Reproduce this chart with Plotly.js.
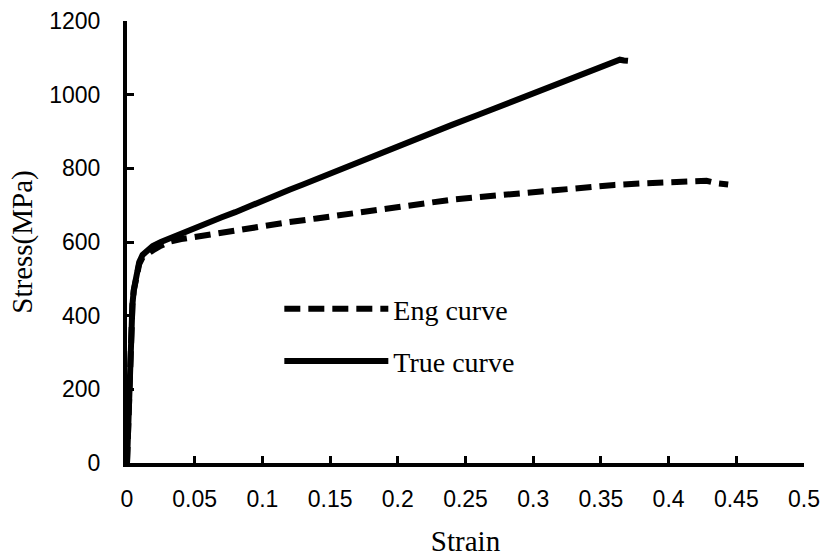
<!DOCTYPE html>
<html>
<head>
<meta charset="utf-8">
<script src="https://cdn.plot.ly/plotly-3.0.1.min.js"></script>
<style>html,body{margin:0;padding:0;background:#fff;}#chart{width:824px;height:557px;}</style>
</head>
<body>
<div id="chart"></div>
<script>
// ---- data ----
const seriesNames = ["Eng curve", "True curve"];

const engStrain = [0, 0.001, 0.002, 0.003, 0.004, 0.005, 0.006, 0.007, 0.009, 0.0115, 0.015, 0.019, 0.025, 0.032, 0.04, 0.05, 0.056, 0.07, 0.081, 0.09, 0.105, 0.12, 0.14, 0.16, 0.18, 0.2, 0.22, 0.24, 0.26, 0.28, 0.3, 0.32, 0.34, 0.36, 0.38, 0.4, 0.41, 0.42, 0.428, 0.435, 0.444];
const engStress = [0, 130, 260, 369, 428, 468, 492, 512, 540, 558, 569, 577, 590, 601, 608, 614, 619, 627, 633, 638, 646, 654, 664, 675, 686, 696, 706, 715, 722, 729, 735, 743, 750, 755, 759, 763, 765, 767, 766, 760, 756];

const trueStrain = [0, 0.001, 0.002, 0.003, 0.004, 0.005, 0.006, 0.007, 0.009, 0.0115, 0.015, 0.019, 0.025, 0.032, 0.04, 0.05, 0.06, 0.07, 0.08, 0.09, 0.1, 0.11, 0.12, 0.13, 0.14, 0.15, 0.16, 0.17, 0.18, 0.19, 0.2, 0.22, 0.24, 0.26, 0.28, 0.3, 0.32, 0.34, 0.35, 0.355, 0.36, 0.364, 0.367, 0.37];
const trueStress = [0, 130, 260, 370, 430, 470, 495, 516, 545, 565, 578, 589, 600, 611, 622, 637, 652, 667, 681, 697, 712, 727, 742, 756, 771, 786, 800, 815, 830, 846, 862, 890, 918, 946, 975, 1003, 1031, 1060, 1074, 1081, 1089, 1095, 1093, 1092];

const xTickVals = [0, 0.05, 0.1, 0.15, 0.2, 0.25, 0.3, 0.35, 0.4, 0.45, 0.5];
const xTickText = ["0", "0.05", "0.1", "0.15", "0.2", "0.25", "0.3", "0.35", "0.4", "0.45", "0.5"];
const yTickVals = [0, 200, 400, 600, 800, 1000, 1200];
const yTickText = ["0", "200", "400", "600", "800", "1000", "1200"];

const xTitle = "Strain";
const yTitle = "Stress(MPa)";

// ---- chart ----
const tickFont = {family: "Liberation Sans, Arial, sans-serif", size: 23, color: "#000"};
const serifFont = {family: "Liberation Serif, Times New Roman, serif", size: 29, color: "#000"};

const traces = [
  {x: engStrain, y: engStress, name: seriesNames[0], legendgroup: "g1", mode: "lines", type: "scatter",
   line: {color: "#000", width: 6, dash: "16px,8px"}},
  {x: trueStrain, y: trueStress, name: seriesNames[1], legendgroup: "g2", mode: "lines", type: "scatter",
   line: {color: "#000", width: 6}}
];

const axisCommon = {
  showline: true, linewidth: 4, linecolor: "#000",
  ticks: "inside", ticklen: 7, tickwidth: 3, tickcolor: "#000",
  showgrid: false, zeroline: false, tickfont: tickFont, mirror: false
};

const layout = {
  width: 824, height: 557,
  margin: {l: 127, r: 20, t: 21, b: 94, pad: 0},
  paper_bgcolor: "#fff", plot_bgcolor: "#fff",
  showlegend: true,
  legend: {x: 0.225, y: 0.405, xanchor: "left", yanchor: "top", font: {family: serifFont.family, size: 28, color: "#000"},
           bgcolor: "rgba(0,0,0,0)", borderwidth: 0, itemwidth: 104, tracegroupgap: 13, traceorder: "grouped"},
  xaxis: Object.assign({}, axisCommon, {range: [0, 0.5], tickmode: "array", tickvals: xTickVals, ticktext: xTickText,
    ticklabelstandoff: 12,
    title: {text: xTitle, font: serifFont, standoff: 22}}),
  yaxis: Object.assign({}, axisCommon, {range: [0, 1200], tickmode: "array", tickvals: yTickVals, ticktext: yTickText,
    ticklabelstandoff: 18,
    title: {text: yTitle, font: serifFont, standoff: 9}})
};

Plotly.newPlot("chart", traces, layout, {staticPlot: true, displayModeBar: false});
</script>
</body>
</html>
